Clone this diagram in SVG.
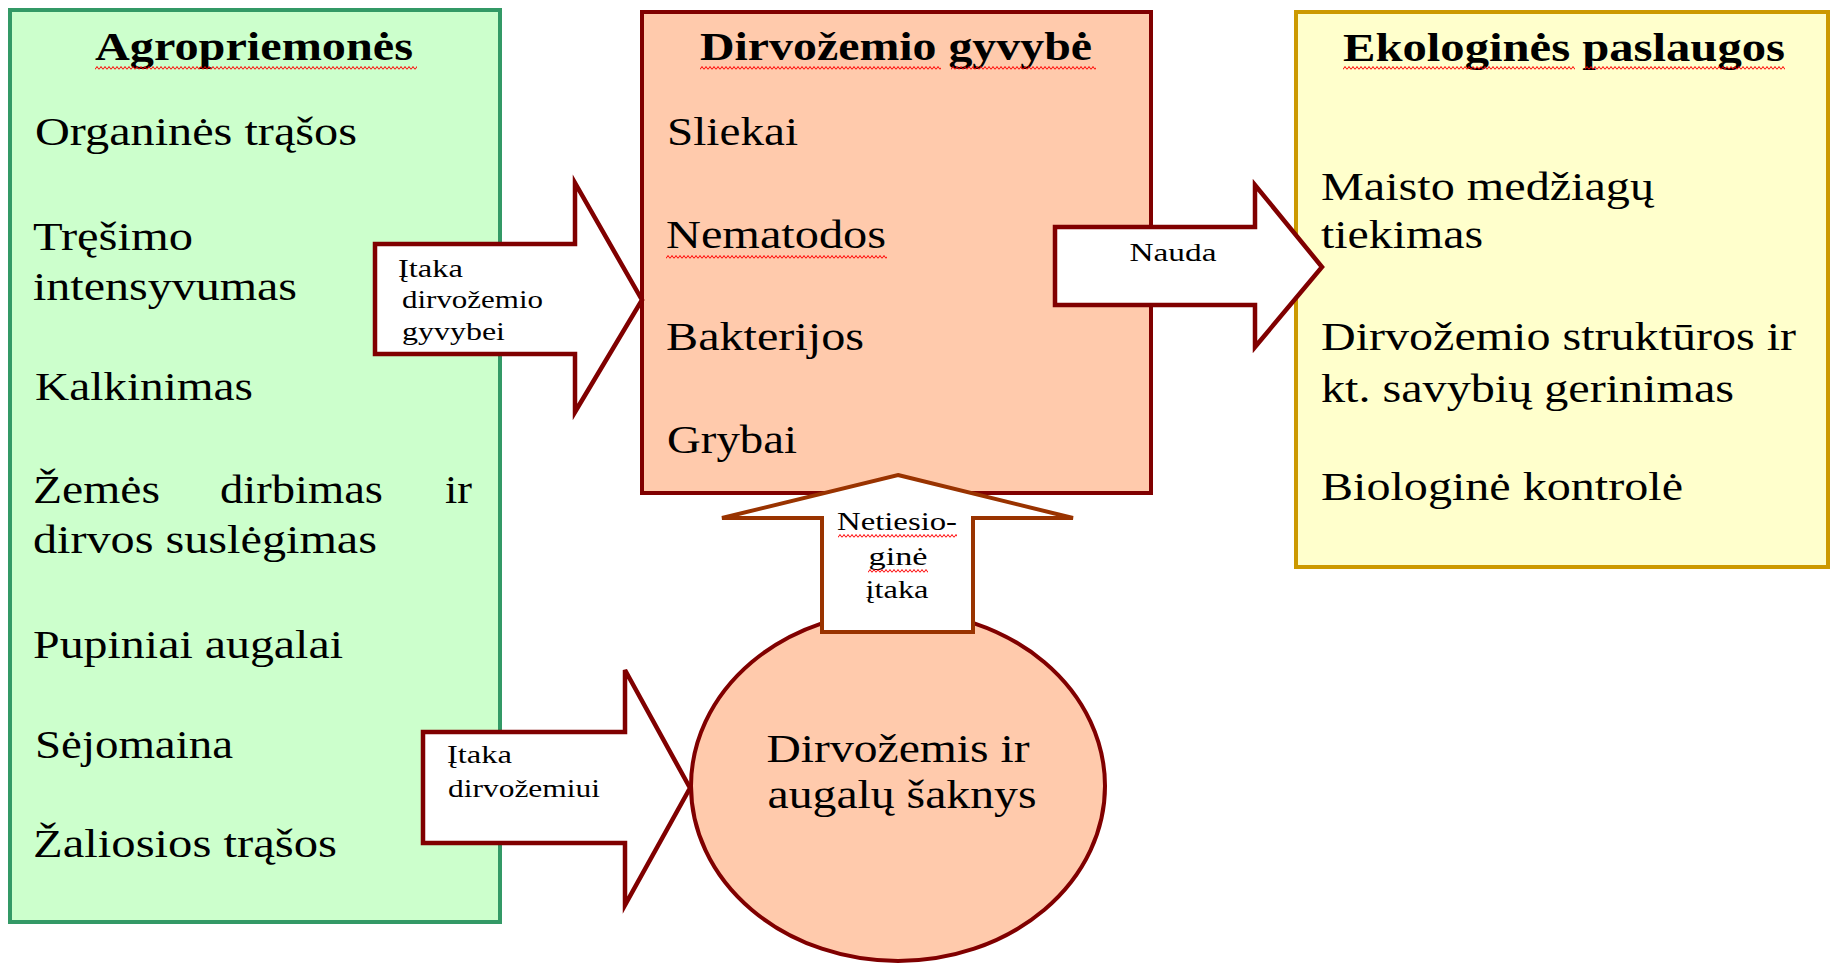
<svg xmlns="http://www.w3.org/2000/svg" width="1831" height="964" viewBox="0 0 1831 964">
<defs>
<style>
.t{font-family:"Liberation Serif","Times New Roman",serif;font-size:40px;fill:#000}
.b{font-weight:bold}
.s{font-family:"Liberation Serif","Times New Roman",serif;font-size:25px;fill:#000}
.arr{fill:#fff;stroke:#800000;stroke-width:4.5}
.arrUp{fill:#fff;stroke:#993300;stroke-width:4}
</style>
<pattern id="sq" width="4" height="6" patternUnits="userSpaceOnUse"><path d="M0,4.5 L2,1.5 L4,4.5" fill="none" stroke="#ff0000" stroke-width="1"/></pattern>
</defs>
<rect width="1831" height="964" fill="#fff"/>

<g id="agropriemones">
<rect x="10" y="10" width="490" height="912" fill="#ccffcc" stroke="#339966" stroke-width="4"/>
<text class="t b" x="254" y="60" text-anchor="middle" textLength="318" lengthAdjust="spacingAndGlyphs">Agropriemonės</text>
<g transform="translate(95,65)"><rect width="322" height="6" fill="url(#sq)"/></g>
<text class="t" x="35" y="145" textLength="322" lengthAdjust="spacingAndGlyphs">Organinės trąšos</text>
<text class="t" x="33" y="250" textLength="160" lengthAdjust="spacingAndGlyphs">Tręšimo</text>
<text class="t" x="33" y="300" textLength="264" lengthAdjust="spacingAndGlyphs">intensyvumas</text>
<text class="t" x="35" y="400" textLength="218" lengthAdjust="spacingAndGlyphs">Kalkinimas</text>
<text class="t" x="33" y="503" textLength="127" lengthAdjust="spacingAndGlyphs">Žemės</text>
<text class="t" x="220" y="503" textLength="163" lengthAdjust="spacingAndGlyphs">dirbimas</text>
<text class="t" x="445" y="503" textLength="27" lengthAdjust="spacingAndGlyphs">ir</text>
<text class="t" x="33" y="553" textLength="344" lengthAdjust="spacingAndGlyphs">dirvos suslėgimas</text>
<text class="t" x="33" y="658" textLength="310" lengthAdjust="spacingAndGlyphs">Pupiniai augalai</text>
<text class="t" x="35" y="758" textLength="198" lengthAdjust="spacingAndGlyphs">Sėjomaina</text>
<text class="t" x="33" y="857" textLength="304" lengthAdjust="spacingAndGlyphs">Žaliosios trąšos</text>
</g>

<g id="dirvozemio-gyvybe">
<rect x="642" y="12" width="509" height="481" fill="#ffcaac" stroke="#800000" stroke-width="4"/>
<text class="t b" x="896" y="60" text-anchor="middle" textLength="392" lengthAdjust="spacingAndGlyphs">Dirvožemio gyvybė</text>
<g transform="translate(700,65)"><rect width="241" height="6" fill="url(#sq)"/></g>
<g transform="translate(951,65)"><rect width="145" height="6" fill="url(#sq)"/></g>
<text class="t" x="667" y="145" textLength="131" lengthAdjust="spacingAndGlyphs">Sliekai</text>
<text class="t" x="666" y="248" textLength="220" lengthAdjust="spacingAndGlyphs">Nematodos</text>
<g transform="translate(666,254)"><rect width="221" height="6" fill="url(#sq)"/></g>
<text class="t" x="666" y="350" textLength="198" lengthAdjust="spacingAndGlyphs">Bakterijos</text>
<text class="t" x="667" y="453" textLength="130" lengthAdjust="spacingAndGlyphs">Grybai</text>
</g>

<g id="ekologines-paslaugos">
<rect x="1296" y="12" width="532" height="555" fill="#ffffcc" stroke="#cc9900" stroke-width="4"/>
<text class="t b" x="1564" y="61" text-anchor="middle" textLength="442" lengthAdjust="spacingAndGlyphs">Ekologinės paslaugos</text>
<g transform="translate(1343,65)"><rect width="232" height="6" fill="url(#sq)"/></g>
<g transform="translate(1585,65)"><rect width="200" height="6" fill="url(#sq)"/></g>
<text class="t" x="1321" y="200" textLength="333" lengthAdjust="spacingAndGlyphs">Maisto medžiagų</text>
<text class="t" x="1321" y="248" textLength="162" lengthAdjust="spacingAndGlyphs">tiekimas</text>
<text class="t" x="1321" y="350" textLength="475" lengthAdjust="spacingAndGlyphs">Dirvožemio struktūros ir</text>
<text class="t" x="1321" y="402" textLength="413" lengthAdjust="spacingAndGlyphs">kt. savybių gerinimas</text>
<text class="t" x="1321" y="500" textLength="362" lengthAdjust="spacingAndGlyphs">Biologinė kontrolė</text>
</g>

<g id="dirvozemis-saknys">
<ellipse cx="898" cy="786" rx="207" ry="175" fill="#ffcaac" stroke="#800000" stroke-width="4"/>
<text class="t" x="898" y="762" text-anchor="middle" textLength="263" lengthAdjust="spacingAndGlyphs">Dirvožemis ir</text>
<text class="t" x="902" y="808" text-anchor="middle" textLength="269" lengthAdjust="spacingAndGlyphs">augalų šaknys</text>
</g>

<g id="connectors">
<g id="arrow-itaka-gyvybei">
<polygon class="arr" points="375,244 575,244 575,183 642,300 575,412 575,354 375,354"/>
<text class="s" x="398" y="277" textLength="65" lengthAdjust="spacingAndGlyphs">Įtaka</text>
<text class="s" x="402" y="308" textLength="141" lengthAdjust="spacingAndGlyphs">dirvožemio</text>
<text class="s" x="402" y="340" textLength="103" lengthAdjust="spacingAndGlyphs">gyvybei</text>
</g>
<g id="arrow-nauda">
<polygon class="arr" points="1055,227 1255,227 1255,185 1322,267 1255,347 1255,305 1055,305"/>
<text class="s" x="1173" y="261" text-anchor="middle" textLength="87" lengthAdjust="spacingAndGlyphs">Nauda</text>
</g>
<g id="arrow-itaka-dirvozemiui">
<polygon class="arr" points="423,732 625,732 625,670 690,788 625,905 625,843 423,843"/>
<text class="s" x="447" y="763" textLength="65" lengthAdjust="spacingAndGlyphs">Įtaka</text>
<text class="s" x="448" y="797" textLength="152" lengthAdjust="spacingAndGlyphs">dirvožemiui</text>
</g>
<g id="arrow-netiesiogine">
<polygon class="arrUp" points="898,475 1073,518 973,518 973,632 822,632 822,518 722,518"/>
<text class="s" x="897" y="530" text-anchor="middle" textLength="120" lengthAdjust="spacingAndGlyphs">Netiesio-</text>
<g transform="translate(838,533)"><rect width="119" height="6" fill="url(#sq)"/></g>
<text class="s" x="898" y="565" text-anchor="middle" textLength="59" lengthAdjust="spacingAndGlyphs">ginė</text>
<g transform="translate(868,568)"><rect width="60" height="6" fill="url(#sq)"/></g>
<text class="s" x="897" y="598" text-anchor="middle" textLength="63" lengthAdjust="spacingAndGlyphs">įtaka</text>
</g>
</g>
</svg>
